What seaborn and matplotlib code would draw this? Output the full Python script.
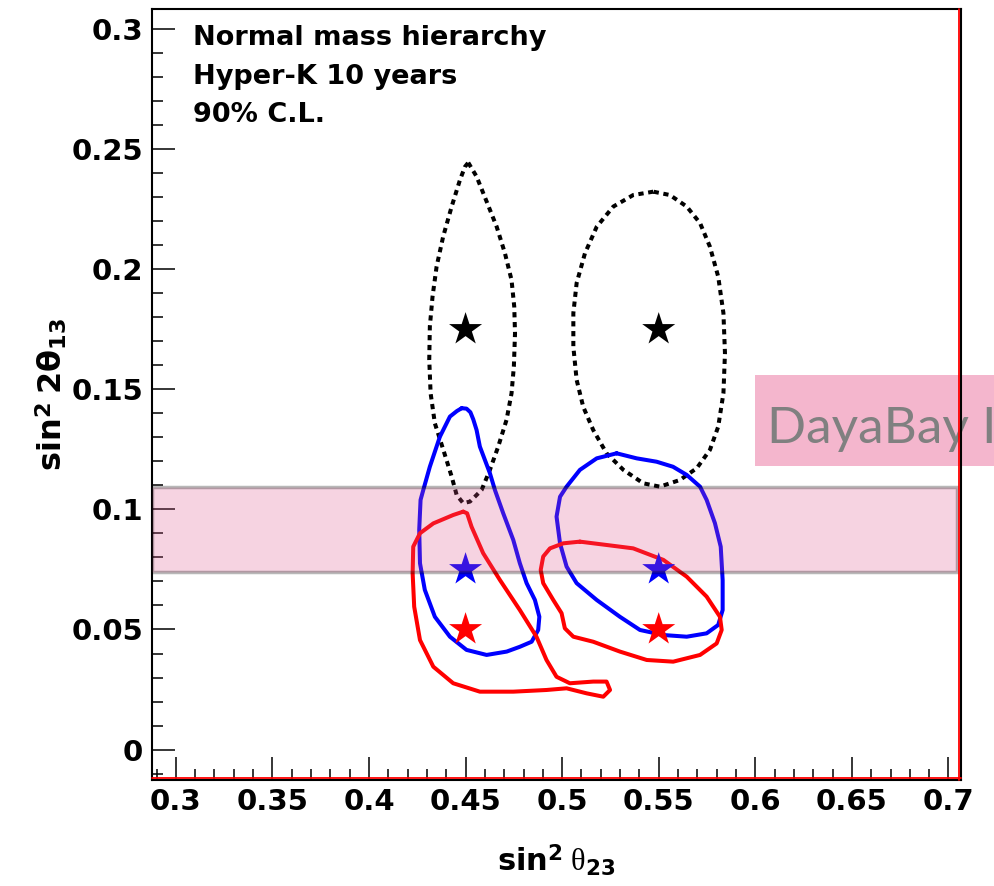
import matplotlib
matplotlib.use("Agg")
import matplotlib.pyplot as plt
import seaborn as sns
import pandas as pd
from matplotlib.ticker import MultipleLocator, FuncFormatter
from matplotlib.patches import Rectangle

# ---------------- data ----------------
# true points (sin^2 theta23, sin^2 2theta13)
star_x = [0.45, 0.55]
star_y_black = [0.175, 0.175]
star_y_blue = [0.075, 0.075]
star_y_red = [0.05, 0.05]

# 90% C.L. contours
bl_x = [0.4514, 0.4557, 0.4609, 0.4661, 0.4704, 0.4738, 0.4752, 0.4756, 0.4750, 0.4738, 0.4712, 0.4669,
        0.4626, 0.4583, 0.4523, 0.4488, 0.4454, 0.4428, 0.4385, 0.4341, 0.4319, 0.4312, 0.4315, 0.4329,
        0.4350, 0.4384, 0.4428, 0.4471, 0.4497]
bl_y = [0.2445, 0.2387, 0.2283, 0.2178, 0.2067, 0.1956, 0.1845, 0.1734, 0.1595, 0.1484, 0.1373, 0.1262,
        0.1165, 0.1081, 0.1033, 0.1026, 0.1060, 0.1137, 0.1248, 0.1359, 0.1484, 0.1623, 0.1762, 0.1887,
        0.2012, 0.2137, 0.2262, 0.2373, 0.2428]

br_x = [0.5472, 0.5368, 0.5265, 0.5179, 0.5118, 0.5075, 0.5058, 0.5058, 0.5075, 0.5109, 0.5161, 0.5230,
        0.5317, 0.5420, 0.5506, 0.5610, 0.5697, 0.5765, 0.5808, 0.5835, 0.5843, 0.5835, 0.5808, 0.5765,
        0.5714, 0.5645, 0.5558]
br_y = [0.2324, 0.2310, 0.2262, 0.2178, 0.2067, 0.1943, 0.1818, 0.1678, 0.1540, 0.1428, 0.1331, 0.1234,
        0.1165, 0.1109, 0.1095, 0.1123, 0.1172, 0.1248, 0.1345, 0.1484, 0.1651, 0.1818, 0.1970, 0.2095,
        0.2193, 0.2262, 0.2310]

bul_x = [0.4480, 0.4455, 0.4419, 0.4367, 0.4315, 0.4281, 0.4267, 0.4260, 0.4264, 0.4289, 0.4341, 0.4419,
         0.4505, 0.4609, 0.4713, 0.4781, 0.4842, 0.4876, 0.4882, 0.4859, 0.4816, 0.4781, 0.4747, 0.4695,
         0.4652, 0.4626, 0.4574, 0.4557, 0.4540, 0.4525, 0.4505]
bul_y = [0.1422, 0.1410, 0.1387, 0.1303, 0.1178, 0.1081, 0.1040, 0.0915, 0.0776, 0.0665, 0.0553, 0.0470,
         0.0415, 0.0394, 0.0408, 0.0428, 0.0449, 0.0498, 0.0553, 0.0623, 0.0693, 0.0776, 0.0873, 0.0984,
         0.1081, 0.1151, 0.1262, 0.1331, 0.1375, 0.1405, 0.1420]

bur_x = [0.5282, 0.5179, 0.5092, 0.5023, 0.4989, 0.4971, 0.4989, 0.5023, 0.5075, 0.5179, 0.5299, 0.5403,
         0.5524, 0.5645, 0.5748, 0.5808, 0.5831, 0.5831, 0.5821, 0.5791, 0.5748, 0.5714, 0.5645, 0.5574,
         0.5489, 0.5386]
bur_y = [0.1234, 0.1213, 0.1165, 0.1095, 0.1053, 0.0970, 0.0859, 0.0762, 0.0693, 0.0623, 0.0553, 0.0498,
         0.0477, 0.0470, 0.0484, 0.0519, 0.0581, 0.0706, 0.0845, 0.0943, 0.1040, 0.1095, 0.1144, 0.1178,
         0.1199, 0.1213]

rl_x = [0.4488, 0.4436, 0.4333, 0.4264, 0.4229, 0.4226, 0.4234, 0.4264, 0.4333, 0.4436, 0.4574, 0.4747,
        0.4919, 0.5023, 0.5127, 0.5213, 0.5248, 0.5230, 0.5161, 0.5040, 0.4971, 0.4919, 0.4867, 0.4781,
        0.4678, 0.4591, 0.4531, 0.4508]
rl_y = [0.0991, 0.0977, 0.0942, 0.0901, 0.0845, 0.0734, 0.0595, 0.0456, 0.0345, 0.0276, 0.0241, 0.0241,
        0.0248, 0.0255, 0.0234, 0.0220, 0.0248, 0.0283, 0.0283, 0.0276, 0.0303, 0.0373, 0.0470, 0.0581,
        0.0706, 0.0818, 0.0928, 0.0984]

rr_x = [0.5092, 0.5231, 0.5368, 0.5524, 0.5645, 0.5748, 0.5817, 0.5826, 0.5800, 0.5714, 0.5575, 0.5438,
        0.5299, 0.5161, 0.5058, 0.5014, 0.4997, 0.4954, 0.4902, 0.4889, 0.4902, 0.4937, 0.5006]
rr_y = [0.0866, 0.0852, 0.0838, 0.0790, 0.0720, 0.0637, 0.0553, 0.0498, 0.0442, 0.0394, 0.0366, 0.0373,
        0.0408, 0.0449, 0.0470, 0.0505, 0.0568, 0.0623, 0.0693, 0.0748, 0.0804, 0.0838, 0.0859]

# Daya Bay band
dyb_low = 0.074
dyb_high = 0.1095

info_lines = ["Normal mass hierarchy", "Hyper-K 10 years", "90% C.L."]
dyb_label = "DayaBay I"

# ---------------- style ----------------
sns.set_theme(style="white")
plt.rcParams["font.family"] = ["DejaVu Sans"]
plt.rcParams["text.color"] = "black"
plt.rcParams["axes.labelcolor"] = "black"
plt.rcParams["xtick.color"] = "black"
plt.rcParams["ytick.color"] = "black"
plt.rcParams["mathtext.fontset"] = "custom"
plt.rcParams["mathtext.bf"] = "DejaVu Sans:bold"
plt.rcParams["mathtext.rm"] = "Liberation Serif"
plt.rcParams["mathtext.it"] = "Liberation Serif:italic"

W, H = 994, 886
fig = plt.figure(figsize=(W / 100, H / 100), dpi=100)
L, R, T, B = 151.7, 961, 9, 780
ax = fig.add_axes([L / W, 1 - B / H, (R - L) / W, (B - T) / H])
ax.set_facecolor("white")

ax.set_xlim(0.2875, 0.7065)
ax.set_ylim(-0.0127, 0.3085)

def draw(xs, ys, color, ls="-"):
    df = pd.DataFrame({"x": xs + xs[:1], "y": ys + ys[:1]})
    sns.lineplot(data=df, x="x", y="y", sort=False, estimator=None, color=color,
                 lw=2.9, linestyle=ls, ax=ax, zorder=3, solid_joinstyle="round",
                 dash_capstyle="butt")

dot = (0, (1.3, 1.15))
draw(bl_x, bl_y, "black", dot)
draw(br_x, br_y, "black", dot)
draw(bul_x, bul_y, "#0000ff")
draw(bur_x, bur_y, "#0000ff")
draw(rl_x, rl_y, "#ff0000")
draw(rr_x, rr_y, "#ff0000")

for ys, c in [(star_y_black, "black"), (star_y_blue, "#0000ff"), (star_y_red, "#ff0000")]:
    sns.scatterplot(x=star_x, y=ys, marker="*", s=25 ** 2, color=c, edgecolor="none",
                    linewidth=0, ax=ax, zorder=4, legend=False)

# Daya Bay band (semi-transparent, on top)
x0, x1 = ax.get_xlim()
band = Rectangle((x0, dyb_low), 0.7045 - x0, dyb_high - dyb_low,
                 facecolor=(223 / 255, 83 / 255, 139 / 255, 0.25),
                 edgecolor=(0, 0, 0, 0.28), lw=2.5, zorder=5)
ax.add_patch(band)

ax.set_xlabel("")
ax.set_ylabel("")

# ticks
ax.xaxis.set_major_locator(MultipleLocator(0.05))
ax.xaxis.set_minor_locator(MultipleLocator(0.01))
ax.yaxis.set_major_locator(MultipleLocator(0.05))
ax.yaxis.set_minor_locator(MultipleLocator(0.01))
fmt = FuncFormatter(lambda v, p: f"{v:g}")
ax.xaxis.set_major_formatter(fmt)
ax.yaxis.set_major_formatter(fmt)
ax.tick_params(which="both", direction="in", top=False, right=False, color="black",
               width=1.1, labelsize=21, bottom=True, left=True, labelcolor="black")
ax.tick_params(which="major", length=16.5, pad=6.0)
ax.tick_params(which="minor", length=8.2)
for lab in ax.get_xticklabels() + ax.get_yticklabels():
    lab.set_fontweight("bold")

for s in ax.spines.values():
    s.set_color("black")
    s.set_linewidth(1.5)
    s.set_visible(True)
# red frame lines along bottom and right
ax.plot([0, 1], [0.0025, 0.0025], transform=ax.transAxes, color="red", lw=1.3, clip_on=False, zorder=6)
ax.plot([0.9975, 0.9975], [0, 1], transform=ax.transAxes, color="red", lw=1.3, clip_on=False, zorder=6)

# axis titles
fig.text(556 / W, 1 - 860 / H, r"$\mathbf{sin}^{\mathbf{2}}\ \mathrm{\theta}_{\mathbf{23}}$",
         fontsize=22, ha="center", va="center")
fig.text(52 / W, 1 - 395 / H, r"$\mathbf{sin}^{\mathbf{2}}\ \mathbf{2\theta}_{\mathbf{13}}$",
         fontsize=23, ha="center", va="center", rotation=90)

# info text
for i, t in enumerate(info_lines):
    fig.text(193 / W, 1 - (45 + 38.5 * i) / H, t, fontsize=19.5, fontweight="bold",
             ha="left", va="baseline")

# DayaBay overlay box
box = Rectangle((755 / W, 1 - 466 / H), (W - 755) / W + 0.01, 91 / H, transform=fig.transFigure,
                facecolor="#F4B6CD", edgecolor="none", zorder=2.4, clip_on=False)
ax.add_patch(box)
ax.text(767 / W, 1 - 443 / H, dyb_label, transform=fig.transFigure, fontsize=37,
        family=["Lato", "DejaVu Sans"], color="#808080", ha="left", va="baseline",
        zorder=2.45, clip_on=False)

fig.savefig("out.png", dpi=100)
